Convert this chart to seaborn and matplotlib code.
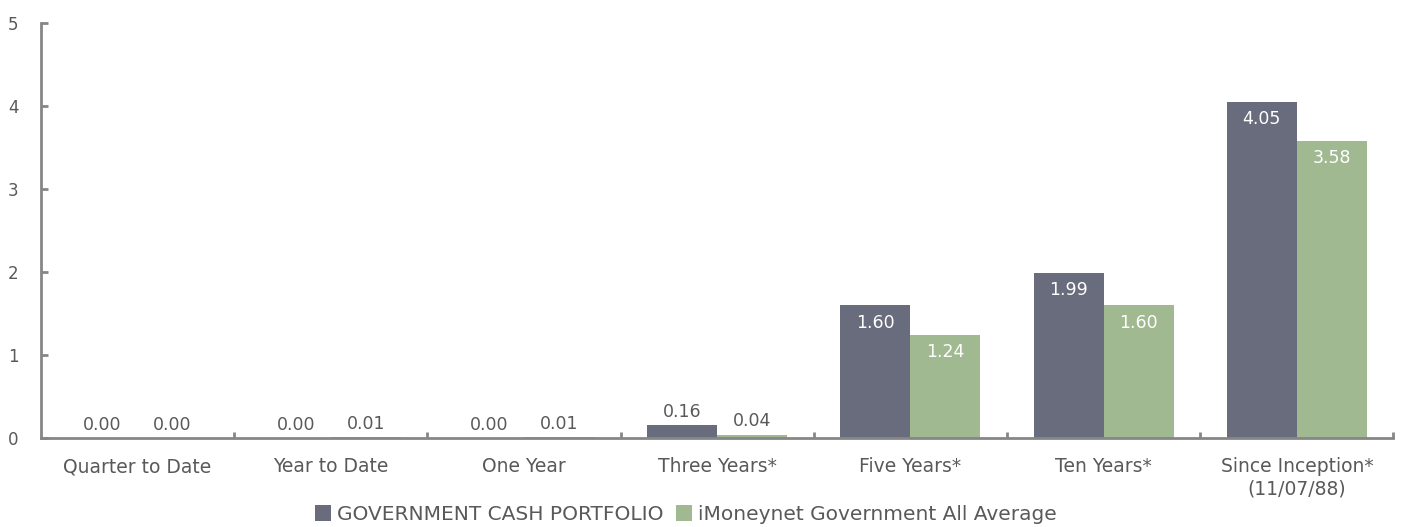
import pandas as pd
import numpy as np
import seaborn as sns
import matplotlib.pyplot as plt

categories = ["Quarter to Date", "Year to Date", "One Year", "Three Years*",
              "Five Years*", "Ten Years*", "Since Inception*\n(11/07/88)"]
series_names = ["GOVERNMENT CASH PORTFOLIO", "iMoneynet Government All Average"]
portfolio = [0.00, 0.00, 0.00, 0.16, 1.60, 1.99, 4.05]
benchmark = [0.00, 0.01, 0.01, 0.04, 1.24, 1.60, 3.58]

df = pd.DataFrame({
    "period": categories * 2,
    "series": [series_names[0]] * len(categories) + [series_names[1]] * len(categories),
    "value": portfolio + benchmark,
})

sns.set_style("white")
plt.rcParams['font.family'] = ['DejaVu Sans']
text_c = "#595959"
axis_c = "#868686"

fig = plt.figure(figsize=(14.03, 5.27), dpi=100)
ax = fig.add_axes([0.0292, 0.169, 0.964, 0.787])

sns.barplot(data=df, x="period", y="value", hue="series", order=categories,
            hue_order=series_names, palette=["#646A80", "#A0C08A"],
            width=0.725, gap=0, errorbar=None, linewidth=0, ax=ax)

ax.set_ylim(0, 5)
ax.set_xlim(-0.5, len(categories) - 0.5)
ax.set_yticks(range(6))
ax.set_xlabel("")
ax.set_ylabel("")
for s in ["top", "right"]:
    ax.spines[s].set_visible(False)
for s in ["left", "bottom"]:
    ax.spines[s].set_color(axis_c)
    ax.spines[s].set_linewidth(2)

ax.tick_params(axis="y", left=True, direction="in", length=5, width=2, color=axis_c,
               labelsize=12, labelcolor=text_c, pad=16)
ax.tick_params(axis="x", which="major", bottom=False, length=0, labelsize=13.5,
               labelcolor=text_c, pad=14)
ax.set_xticks(np.arange(0.5, len(categories), 1), minor=True)
ax.tick_params(axis="x", which="minor", bottom=True, direction="in", length=4,
               width=2, color=axis_c)

for cont in ax.containers:
    for bar in cont:
        h = bar.get_height()
        cx = bar.get_x() + bar.get_width() / 2
        if h > 0.5:
            ax.text(cx, h - 0.1, f"{h:.2f}", ha="center", va="top",
                    color="white", fontsize=12.5)
        else:
            ax.text(cx, h + 0.05, f"{h:.2f}", ha="center", va="bottom",
                    color=text_c, fontsize=12.5)

ax.legend(loc="center", bbox_to_anchor=(0.477, -0.185), ncol=2, frameon=False,
          fontsize=14.5, labelcolor=text_c, handlelength=0.8, handleheight=0.8,
          handletextpad=0.3, columnspacing=0.6, borderaxespad=0)

fig.savefig("out.png", dpi=100)
